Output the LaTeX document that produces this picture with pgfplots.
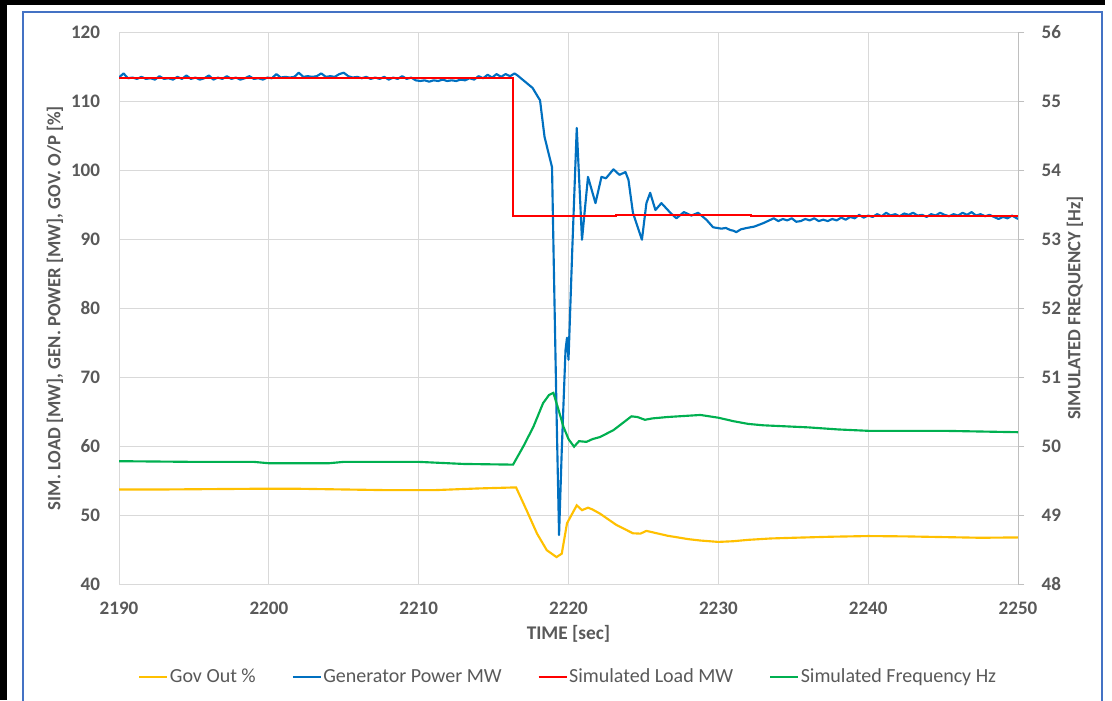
\documentclass[border=0pt]{standalone}
\usepackage{fontspec}
\setmainfont{Carlito}
\usepackage{pgfplots}
\usepackage{pgfplotstable}
\pgfplotsset{compat=1.18}
\definecolor{txtgray}{HTML}{595959}
\definecolor{gridgray}{HTML}{D9D9D9}
\definecolor{axgray}{HTML}{BFBFBF}
\definecolor{govc}{HTML}{FFC000}
\definecolor{genc}{HTML}{0070C0}
\definecolor{loadc}{HTML}{FF0000}
\definecolor{freqc}{HTML}{00B050}
\definecolor{frameblue}{HTML}{4472C4}

\pgfplotstableread{
t v
2190 53.7
2193 53.7
2196 53.75
2199 53.8
2202 53.8
2205 53.7
2208 53.6
2211 53.6
2214 53.85
2216.5 54.0
2217.2 50.7
2217.9 47.3
2218.55 44.9
2219.2 43.9
2219.55 44.4
2219.9 48.8
2220.55 51.4
2220.9 50.7
2221.3 51.06
2221.6 50.8
2222.1 50.2
2223.2 48.55
2224.3 47.35
2224.8 47.3
2225.2 47.7
2225.6 47.5
2226.6 47.0
2228.0 46.5
2228.8 46.3
2230 46.1
2231 46.2
2232 46.4
2233.5 46.6
2235 46.7
2237.5 46.85
2240 46.95
2242.5 46.9
2245 46.8
2247.5 46.7
2250 46.75
}\govtable

\pgfplotstableread{
t v
2190 49.78
2195 49.77
2199 49.77
2200 49.75
2204 49.75
2205 49.77
2210 49.77
2213 49.74
2216.3 49.73
2217.0 50.0
2217.66 50.28
2218.3 50.62
2218.7 50.74
2218.99 50.77
2219.3 50.55
2219.66 50.28
2220.0 50.1
2220.37 49.99
2220.7 50.07
2221.2 50.06
2221.6 50.1
2222.1 50.13
2223.0 50.23
2223.6 50.33
2224.2 50.43
2224.6 50.42
2225.1 50.38
2225.6 50.40
2226.6 50.42
2228.8 50.45
2230 50.41
2231 50.36
2232 50.32
2233 50.30
2234 50.29
2236 50.27
2238 50.24
2240 50.22
2245 50.22
2250 50.20
}\freqtable

\pgfplotstableread{
t v
2190 113.3
2216.3 113.3
2216.3 93.3
2223.2 93.3
2223.2 93.45
2232.2 93.45
2232.2 93.35
2250 93.35
}\loadtable

\pgfplotstableread{
t v
2190.0 113.4
2190.3 114.0
2190.6 113.3
2190.9 113.4
2191.2 113.2
2191.5 113.5
2191.8 113.2
2192.1 113.3
2192.4 113.1
2192.7 113.6
2193.0 113.2
2193.3 113.3
2193.6 113.1
2193.9 113.5
2194.2 113.2
2194.5 113.7
2194.8 113.2
2195.1 113.4
2195.4 113.1
2195.7 113.3
2196.0 113.7
2196.3 113.1
2196.6 113.4
2196.9 113.2
2197.2 113.6
2197.5 113.2
2197.8 113.4
2198.1 113.1
2198.4 113.3
2198.7 113.6
2199.0 113.2
2199.3 113.3
2199.6 113.1
2199.9 113.4
2200.2 113.3
2200.5 113.9
2200.8 113.4
2201.1 113.5
2201.4 113.4
2201.7 113.5
2202.0 114.1
2202.3 113.5
2202.6 113.6
2202.9 113.5
2203.2 113.6
2203.5 114.0
2203.8 113.5
2204.1 113.6
2204.4 113.5
2204.7 113.9
2205.0 114.1
2205.3 113.6
2205.6 113.4
2205.9 113.5
2206.2 113.3
2206.5 113.5
2206.8 113.2
2207.1 113.4
2207.4 113.2
2207.7 113.5
2208.0 113.1
2208.3 113.4
2208.6 113.2
2208.9 113.6
2209.2 113.2
2209.5 113.4
2209.8 113.0
2210.1 112.9
2210.4 113.0
2210.7 112.8
2211.0 113.0
2211.3 112.9
2211.6 113.1
2211.9 112.9
2212.2 113.0
2212.5 112.9
2212.8 113.1
2213.1 113.0
2213.4 113.3
2213.7 113.1
2214.0 113.6
2214.3 113.3
2214.6 113.8
2214.9 113.4
2215.2 113.9
2215.5 113.5
2215.8 113.9
2216.1 113.6
2216.4 114.0
2216.6 113.7
2217.1 112.8
2217.6 111.9
2218.1 110.1
2218.4 104.8
2218.9 100.4
2219.0 88.4
2219.2 65.0
2219.37 47.1
2219.55 59.4
2219.8 73.9
2219.9 75.7
2220.0 72.5
2220.25 88.4
2220.55 106.1
2220.9 89.9
2221.3 99.0
2221.8 95.2
2222.2 99.0
2222.5 98.8
2223.0 100.1
2223.4 99.3
2223.8 99.7
2224.0 98.6
2224.3 93.8
2224.9 89.9
2225.2 95.2
2225.45 96.7
2225.8 94.2
2226.2 95.2
2226.8 93.8
2227.2 93.0
2227.7 93.9
2228.2 93.4
2228.65 93.8
2229.2 92.8
2229.65 91.7
2230.2 91.5
2230.5 91.6
2230.8 91.3
2231.0 91.2
2231.2 91.0
2231.5 91.4
2231.9 91.6
2232.4 91.8
2233.0 92.3
2233.7 93.0
2234.0 92.6
2234.3 92.9
2234.6 92.7
2234.9 93.0
2235.2 92.5
2235.5 92.6
2235.8 92.9
2236.1 92.7
2236.4 93.0
2236.7 92.6
2237.0 92.8
2237.3 92.6
2237.6 92.9
2237.9 92.7
2238.2 93.1
2238.5 92.8
2238.8 93.2
2239.1 93.0
2239.4 93.5
2239.7 93.1
2240.0 93.4
2240.3 93.2
2240.6 93.6
2240.9 93.3
2241.2 93.8
2241.5 93.4
2241.8 93.6
2242.1 93.3
2242.4 93.7
2242.7 93.5
2243.0 93.8
2243.3 93.4
2243.6 93.5
2243.9 93.2
2244.2 93.6
2244.5 93.4
2244.8 93.8
2245.1 93.5
2245.4 93.3
2245.7 93.6
2246.0 93.4
2246.3 93.8
2246.6 93.5
2246.9 93.9
2247.2 93.4
2247.5 93.6
2247.8 93.3
2248.1 93.5
2248.4 93.2
2248.7 92.9
2249.0 93.2
2249.3 93.0
2249.6 93.4
2250.0 92.9
}\gentable

\pgfplotsset{
  base/.style={
    scale only axis, width=674.25pt, height=414pt,
    at={(89.25pt,87pt)}, anchor=south west,
    xmin=2190, xmax=2250, xtick={2190,2200,...,2250},
    /pgf/number format/assume math mode=true,
    /pgf/number format/1000 sep={},
    tick label style={font=\fontsize{14.3}{17}\selectfont\bfseries, text=txtgray, inner sep=0pt},
    label style={font=\fontsize{14}{17}\selectfont\bfseries, text=txtgray},
  }
}

\begin{document}
\begin{tikzpicture}
\path[use as bounding box, fill=white] (0,0) rectangle (834pt,525pt);
\fill[black] (0,0) rectangle (5.25pt,525pt);
\fill[black] (0,521.25pt) rectangle (828.75pt,525pt);
\draw[frameblue, line width=1.9pt] (17.25pt,-5pt) -- (17.25pt,516pt) -- (826.5pt,516pt) -- (826.5pt,-5pt);

\begin{axis}[base,
  ymin=40, ymax=120, ytick={40,50,...,120},
  grid=major, major grid style={gridgray, line width=0.75pt},
  axis line style={gridgray, line width=0.75pt},
  major tick length=0pt,
  yticklabel style={anchor=east, xshift=-14pt},
  xticklabel style={anchor=north, yshift=-13pt},
  xlabel={TIME [sec]},
  xlabel style={at={(axis description cs:0.5,-0.0906)}, anchor=center, font=\fontsize{14.5}{17}\selectfont\bfseries},
  ylabel={SIM. LOAD [MW], GEN. POWER [MW], GOV. O/P [\%]},
  ylabel style={at={(axis description cs:-0.0712,0.5)}, anchor=center},
]
\addplot[govc, line width=1.6pt] table[x=t,y=v] {\govtable};
\addplot[genc, line width=1.6pt, line join=round] table[x=t,y=v] {\gentable};
\addplot[loadc, line width=1.5pt] table[x=t,y=v] {\loadtable};
\end{axis}

\begin{axis}[base,
  ymin=48, ymax=56, ytick={48,49,...,56},
  axis x line=none, axis y line*=right,
  axis line style={axgray, line width=0.75pt},
  tick style={axgray, line width=0.75pt},
  tick align=outside, major tick length=4.5pt,
  yticklabel style={anchor=west, xshift=13pt},
  ylabel={SIMULATED FREQUENCY [Hz]},
  ylabel style={at={(axis description cs:1.0634,0.5)}, anchor=center},
  legend columns=4,
  legend style={draw=none, fill=none, at={(axis description cs:0.4994,-0.1685)}, anchor=center,
    font=\fontsize{15}{17}\selectfont, text=txtgray,
    /tikz/every even column/.append style={column sep=26pt},
    nodes={inner sep=1pt}},
  legend image code/.code={\draw[#1] (0pt,0pt) -- (21pt,0pt);},
]
\addlegendimage{govc, line width=1.6pt}
\addlegendentry{Gov Out \%}
\addlegendimage{genc, line width=1.6pt}
\addlegendentry{Generator Power MW}
\addlegendimage{loadc, line width=1.6pt}
\addlegendentry{Simulated Load MW}
\addplot[freqc, line width=1.6pt] table[x=t,y=v] {\freqtable};
\addlegendentry{Simulated Frequency Hz}
\end{axis}
\end{tikzpicture}
\end{document}
